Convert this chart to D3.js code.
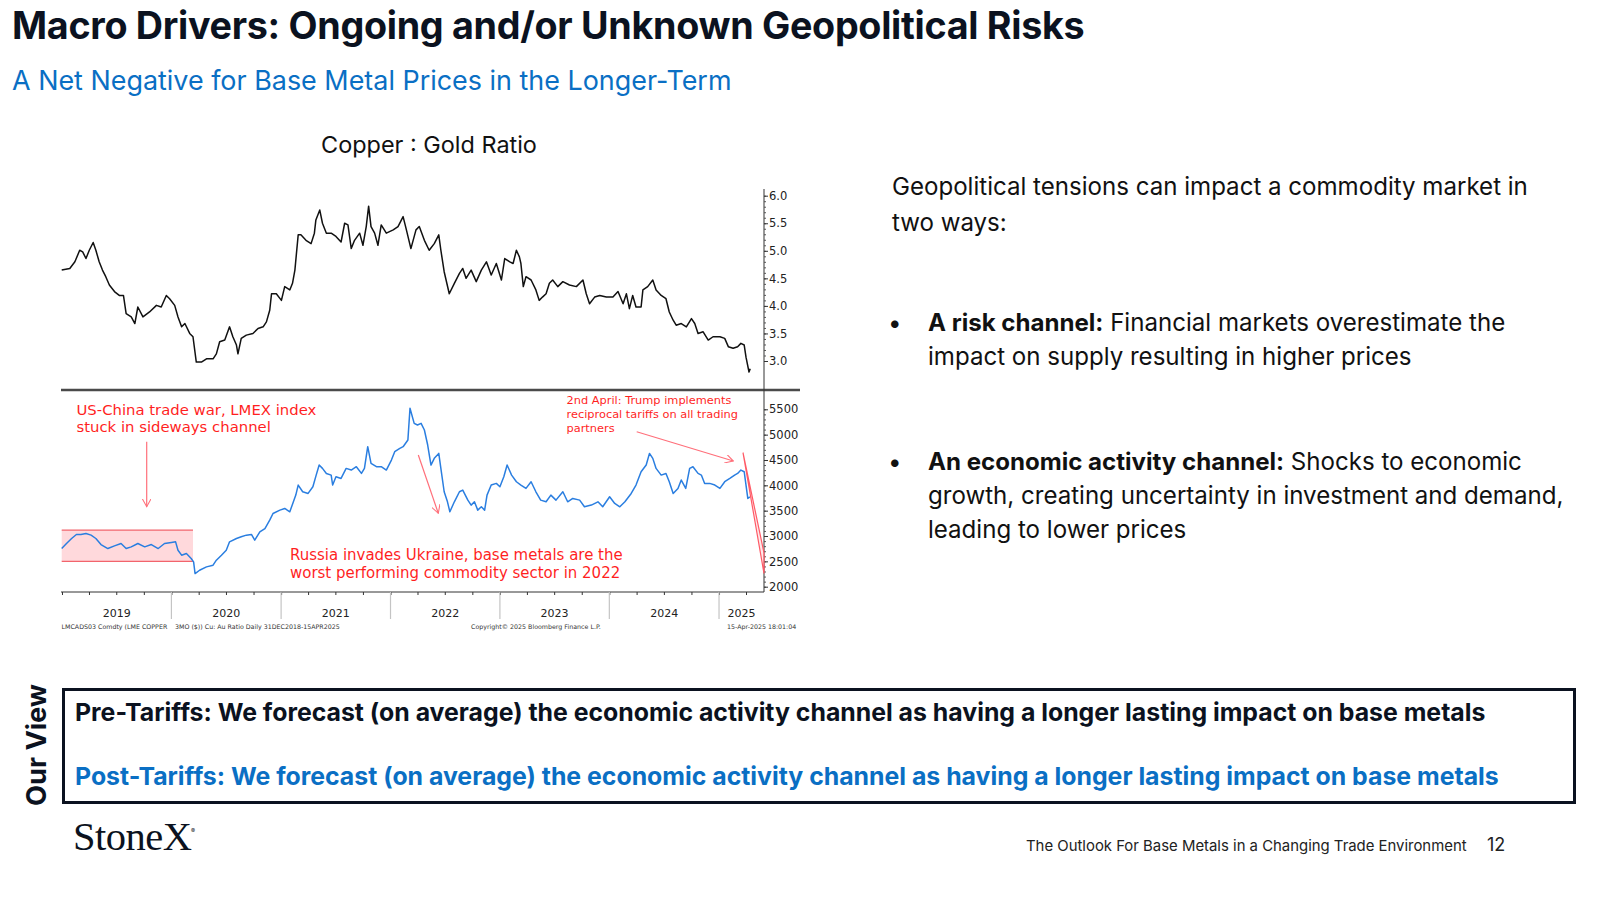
<!DOCTYPE html>
<html>
<head>
<meta charset="utf-8">
<script src="https://cdn.jsdelivr.net/npm/d3@7"></script>
<style>
  body { margin: 0; background: #fff; }
  svg { display: block; }
</style>
</head>
<body>
<svg id="slide" width="1600" height="900"></svg>
<script>
// Copper : Gold ratio (LME copper 3M $/t over gold $/oz)
const ratioDates = [
  "2018-12-31","2019-01-27","2019-02-13","2019-03-01","2019-03-11","2019-03-22","2019-04-02","2019-04-15",
  "2019-04-24","2019-05-05","2019-05-16","2019-05-27","2019-06-08","2019-06-25","2019-07-11","2019-07-25",
  "2019-08-03","2019-08-20","2019-09-01","2019-09-11","2019-09-28","2019-10-20","2019-11-12","2019-11-28",
  "2019-12-15","2019-12-26","2020-01-12","2020-01-23","2020-02-04","2020-02-15","2020-03-02","2020-03-13",
  "2020-03-24","2020-04-10","2020-04-27","2020-05-19","2020-05-30","2020-06-10","2020-06-27","2020-07-13",
  "2020-07-24","2020-08-05","2020-08-10","2020-08-21","2020-09-07","2020-09-29","2020-10-16","2020-11-02",
  "2020-11-13","2020-11-24","2020-11-30","2020-12-16","2021-01-02","2021-01-13","2021-01-30","2021-02-08",
  "2021-02-16","2021-02-27","2021-03-08","2021-03-25","2021-04-11","2021-04-22","2021-04-27","2021-05-10",
  "2021-05-19","2021-06-01","2021-06-17","2021-07-03","2021-07-20","2021-08-01","2021-08-12","2021-08-23",
  "2021-09-03","2021-09-20","2021-10-01","2021-10-12","2021-10-20","2021-10-28","2021-11-09","2021-11-20",
  "2021-12-01","2021-12-18","2022-01-10","2022-01-26","2022-02-12","2022-02-23","2022-03-10","2022-03-27",
  "2022-04-07","2022-04-24","2022-05-10","2022-05-27","2022-06-11","2022-06-18","2022-06-29","2022-07-16",
  "2022-08-02","2022-08-19","2022-08-30","2022-09-10","2022-09-27","2022-10-14","2022-10-31","2022-11-17",
  "2022-12-03","2022-12-20","2023-01-06","2023-01-17","2023-02-03","2023-02-14","2023-02-25","2023-03-07",
  "2023-03-12","2023-03-20","2023-03-29","2023-04-15","2023-05-01","2023-05-12","2023-05-23","2023-06-04",
  "2023-06-15","2023-06-26","2023-07-13","2023-07-30","2023-08-21","2023-09-13","2023-10-05","2023-10-16",
  "2023-10-27","2023-11-13","2023-11-30","2023-12-22","2024-01-13","2024-01-30","2024-02-16","2024-02-27",
  "2024-03-08","2024-03-19","2024-03-30","2024-04-16","2024-04-22","2024-05-08","2024-05-25","2024-06-05",
  "2024-06-22","2024-07-08","2024-07-19","2024-08-01","2024-08-11","2024-08-28","2024-09-14","2024-10-01",
  "2024-10-12","2024-10-23","2024-11-09","2024-11-26","2024-12-12","2025-01-04","2025-01-20","2025-02-01",
  "2025-02-17","2025-03-04","2025-03-15","2025-03-26","2025-04-01","2025-04-11","2025-04-15"
];
const ratioValues = [
  4.65,4.68,4.80,5.01,4.98,4.86,5.01,5.15,
  5.01,4.80,4.65,4.53,4.38,4.26,4.19,4.19,
  3.86,3.80,3.68,3.98,3.80,3.89,4.01,3.98,
  4.19,4.13,4.01,3.80,3.62,3.68,3.50,3.44,
  2.98,2.98,3.04,3.04,3.13,3.35,3.38,3.62,
  3.44,3.29,3.13,3.41,3.47,3.50,3.59,3.62,
  3.71,3.92,4.22,4.22,4.10,4.35,4.29,4.41,
  4.65,5.29,5.29,5.19,5.13,5.32,5.56,5.74,
  5.50,5.32,5.32,5.26,5.16,5.50,5.47,5.04,
  5.19,5.32,5.10,5.44,5.81,5.44,5.32,5.10,
  5.47,5.32,5.38,5.44,5.62,5.38,5.04,5.38,
  5.44,5.19,5.01,5.13,5.29,5.01,4.62,4.22,
  4.41,4.59,4.68,4.50,4.65,4.44,4.65,4.80,
  4.56,4.77,4.47,4.86,4.80,4.77,5.01,4.89,
  4.77,4.35,4.53,4.47,4.29,4.10,4.16,4.22,
  4.41,4.47,4.35,4.44,4.38,4.35,4.47,4.22,
  4.04,4.16,4.19,4.16,4.16,4.26,4.04,4.22,
  3.95,4.19,3.98,3.98,4.29,4.35,4.47,4.29,
  4.19,4.13,3.89,3.74,3.65,3.68,3.62,3.77,
  3.68,3.50,3.53,3.38,3.44,3.44,3.41,3.26,
  3.23,3.26,3.32,3.29,3.07,2.80,2.86
];

// LMEX index
const lmexDates = [
  "2018-12-31","2019-01-16","2019-02-02","2019-02-18","2019-03-05","2019-03-22","2019-04-08","2019-04-24",
  "2019-05-11","2019-06-03","2019-06-25","2019-07-17","2019-08-03","2019-08-20","2019-09-11","2019-10-04",
  "2019-10-26","2019-11-18","2019-12-09","2020-01-01","2020-01-15","2020-01-23","2020-02-04","2020-02-20",
  "2020-03-07","2020-03-15","2020-03-20","2020-04-04","2020-04-27","2020-05-19","2020-05-30","2020-06-16",
  "2020-07-02","2020-07-13","2020-08-05","2020-08-21","2020-09-07","2020-09-24","2020-10-05","2020-10-22",
  "2020-11-08","2020-11-24","2020-12-05","2020-12-28","2021-01-13","2021-01-30","2021-02-11","2021-02-19",
  "2021-02-27","2021-03-14","2021-04-01","2021-04-17","2021-04-28","2021-05-08","2021-05-19","2021-06-01",
  "2021-06-17","2021-06-22","2021-07-03","2021-07-20","2021-08-06","2021-08-23","2021-09-09","2021-09-26",
  "2021-10-06","2021-10-17","2021-10-28","2021-11-15","2021-12-01","2021-12-18","2022-01-04","2022-01-15",
  "2022-02-01","2022-02-12","2022-02-28","2022-03-07","2022-03-21","2022-04-01","2022-04-13","2022-04-24",
  "2022-05-05","2022-05-16","2022-05-27","2022-06-11","2022-06-18","2022-06-29","2022-07-10","2022-07-18",
  "2022-08-02","2022-08-19","2022-08-30","2022-09-16","2022-09-27","2022-10-08","2022-10-19","2022-10-31",
  "2022-11-11","2022-11-19","2022-12-03","2022-12-20","2023-01-01","2023-01-14","2023-01-25","2023-02-09",
  "2023-02-25","2023-03-12","2023-03-29","2023-04-15","2023-05-01","2023-05-17","2023-06-04","2023-06-20",
  "2023-07-07","2023-07-30","2023-08-15","2023-09-01","2023-09-24","2023-10-10","2023-11-02","2023-11-24",
  "2023-12-10","2024-01-02","2024-01-19","2024-02-05","2024-02-22","2024-03-14","2024-03-30","2024-04-16",
  "2024-05-03","2024-05-14","2024-05-25","2024-06-05","2024-06-22","2024-07-08","2024-07-19","2024-08-01",
  "2024-08-17","2024-08-28","2024-09-12","2024-09-25","2024-10-06","2024-10-23","2024-11-03","2024-11-14",
  "2024-12-01","2024-12-18","2025-01-04","2025-01-20","2025-02-06","2025-02-22","2025-03-04","2025-03-15",
  "2025-03-26","2025-04-01","2025-04-07","2025-04-14"
];
const lmexValues = [
  2753,2852,2951,3030,3030,3050,3017,2951,
  2832,2753,2806,2852,2753,2786,2852,2786,
  2832,2753,2852,2872,2885,2720,2622,2654,
  2556,2490,2259,2325,2391,2424,2523,2622,
  2720,2885,2951,2984,3017,3030,2918,3083,
  3148,3313,3445,3511,3544,3478,3675,3807,
  4005,3873,3840,3972,4202,4400,4334,4235,
  4202,4005,4169,4136,4334,4301,4367,4235,
  4334,4762,4433,4367,4367,4301,4499,4663,
  4729,4762,4894,5520,5223,5190,5223,5092,
  4795,4400,4532,4630,4334,3873,3675,3478,
  3675,3873,3906,3708,3610,3675,3511,3577,
  3511,3807,4005,4038,3972,4169,4400,4202,
  4071,4005,3939,4071,3873,3708,3675,3807,
  3708,3873,3675,3741,3708,3577,3610,3675,
  3577,3774,3643,3577,3675,3840,4005,4268,
  4400,4630,4532,4334,4202,4235,4071,3840,
  3939,4104,3939,4334,4367,4235,4202,4038,
  4038,4005,3939,4071,4136,4202,4235,4301,
  4268,4005,3741,3773
];

const ratioTicks = [3.0, 3.5, 4.0, 4.5, 5.0, 5.5, 6.0];
const lmexTicks = [2000, 2500, 3000, 3500, 4000, 4500, 5000, 5500];
const yearLabels = ["2019", "2020", "2021", "2022", "2023", "2024", "2025"];

// sideways channel box (dates + LMEX levels)
const channelBox = {from: "2018-12-31", to: "2020-03-13", low: 2500, high: 3115};

const usChinaText = ["US-China trade war, LMEX index", "stuck in sideways channel"];
const russiaText = ["Russia invades Ukraine, base metals are the", "worst performing commodity sector in 2022"];
const trumpText = ["2nd April: Trump implements", "reciprocal tariffs on all trading", "partners"];

const introText = ["Geopolitical tensions can impact a commodity market in", "two ways:"];
const bullets = [
  {head: "A risk channel:", lines: [" Financial markets overestimate the", "impact on supply resulting in higher prices"]},
  {head: "An economic activity channel:", lines: [" Shocks to economic", "growth, creating uncertainty in investment and demand,", "leading to lower prices"]}
];
const viewLines = [
  "Pre-Tariffs: We forecast (on average) the economic activity channel as having a longer lasting impact on base metals",
  "Post-Tariffs: We forecast (on average) the economic activity channel as having a longer lasting impact on base metals"
];

const ink = "#0b1220";
const blue = "#0a6fc4";
const red = "#ff1f1f";
const redLight = "#ff6f7a";
const sans = "Inter, 'Noto Sans', sans-serif";
const bbg = "'DejaVu Sans', Verdana, sans-serif";

const svg = d3.select("#slide");

// scale a text element's font so it spans the width seen in the slide
function fitWidth(sel, target) {
  const w = sel.node().getComputedTextLength();
  const fs = parseFloat(sel.style("font-size"));
  sel.style("font-size", (fs * target / w) + "px");
  return fs * target / w;
}

// ---------- titles ----------
fitWidth(svg.append("text")
  .attr("x", 12).attr("y", 39)
  .style("font-family", sans).style("font-weight", 700).style("font-size", "34px")
  .style("fill", ink).style("letter-spacing", "-0.3px")
  .text("Macro Drivers: Ongoing and/or Unknown Geopolitical Risks"), 1071);

fitWidth(svg.append("text")
  .attr("x", 12).attr("y", 90)
  .style("font-family", sans).style("font-weight", 400).style("font-size", "26px")
  .style("fill", blue)
  .text("A Net Negative for Base Metal Prices in the Longer-Term"), 720);

fitWidth(svg.append("text")
  .attr("x", 429).attr("y", 153).attr("text-anchor", "middle")
  .style("font-family", sans).style("font-size", "24px").style("fill", "#111")
  .text("Copper : Gold Ratio"), 216);

// ---------- chart ----------
const parseDate = d3.timeParse("%Y-%m-%d");
const ratio = ratioDates.map((d, i) => ({date: parseDate(d), value: ratioValues[i]}));
const lmex = lmexDates.map((d, i) => ({date: parseDate(d), value: lmexValues[i]}));

const plotLeft = 61, plotRight = 764, sepY = 390, axisY = 592;

const x = d3.scaleTime()
  .domain([parseDate("2018-12-31"), parseDate("2025-04-15")])
  .range([61.7, 750.2]);
const yRatio = d3.scaleLinear().domain([3, 6]).range([361, 195.7]);
const yLmex = d3.scaleLinear().domain([2000, 5500]).range([586.7, 409.3]);

const chart = svg.append("g");

// pink sideways channel
const boxX0 = x(parseDate(channelBox.from)), boxX1 = x(parseDate(channelBox.to));
chart.append("rect")
  .attr("x", boxX0).attr("y", yLmex(channelBox.high))
  .attr("width", boxX1 - boxX0).attr("height", yLmex(channelBox.low) - yLmex(channelBox.high))
  .style("fill", "#ffd9dc");
[channelBox.high, channelBox.low].forEach(v => {
  chart.append("line")
    .attr("x1", boxX0).attr("x2", boxX1).attr("y1", yLmex(v)).attr("y2", yLmex(v))
    .style("stroke", "#f2646c").style("stroke-width", 1.3);
});

// series
chart.append("path")
  .datum(ratio)
  .attr("d", d3.line().x(d => x(d.date)).y(d => yRatio(d.value)))
  .style("fill", "none").style("stroke", "#111").style("stroke-width", 1.5)
  .style("stroke-linejoin", "round");

chart.append("path")
  .datum(lmex)
  .attr("d", d3.line().x(d => x(d.date)).y(d => yLmex(d.value)))
  .style("fill", "none").style("stroke", "#2a7ee0").style("stroke-width", 1.5)
  .style("stroke-linejoin", "round");

// panel separator
chart.append("line")
  .attr("x1", plotLeft).attr("x2", 800).attr("y1", sepY).attr("y2", sepY)
  .style("stroke", "#4a4a4a").style("stroke-width", 2.4);

// right axes
function rightAxis(scale, ticks, minorTicks, fmt, top, bottom) {
  const g = chart.append("g").attr("transform", `translate(${plotRight},0)`);
  g.append("line").attr("y1", top).attr("y2", bottom).style("stroke", "#333");
  g.append("g")
    .call(d3.axisRight(scale).tickValues(minorTicks).tickSize(2).tickFormat(""))
    .call(a => a.select(".domain").remove())
    .selectAll("line").style("stroke", "#555");
  const major = g.append("g")
    .call(d3.axisRight(scale).tickValues(ticks).tickSize(4).tickPadding(1).tickFormat(fmt))
    .call(a => a.select(".domain").remove());
  major.selectAll("line").style("stroke", "#333");
  major.selectAll("text")
    .style("font-family", bbg).style("font-size", "11.5px").style("fill", "#222");
}
rightAxis(yRatio, ratioTicks, yRatio.ticks(30), d3.format(".1f"), 189, sepY);
rightAxis(yLmex, lmexTicks, yLmex.ticks(35), d3.format("d"), sepY, axisY);

// bottom time axis
chart.append("line")
  .attr("x1", plotLeft).attr("x2", plotRight).attr("y1", axisY).attr("y2", axisY)
  .style("stroke", "#333");
chart.append("g")
  .attr("transform", `translate(0,${axisY})`)
  .call(d3.axisBottom(x).ticks(d3.timeMonth.every(3)).tickSize(3).tickFormat(""))
  .call(a => a.select(".domain").remove())
  .selectAll("line").style("stroke", "#333");

const years = yearLabels.map(y => parseDate(y + "-01-01"));
chart.append("g")
  .selectAll("line")
  .data(years.slice(1))
  .join("line")
    .attr("x1", d => x(d)).attr("x2", d => x(d))
    .attr("y1", axisY).attr("y2", 619)
    .style("stroke", "#c4c4c4").style("stroke-width", 1.2);

chart.append("g")
  .selectAll("text")
  .data(years)
  .join("text")
    .attr("x", d => {
      const a = Math.max(x(d), plotLeft);
      const b = Math.min(x(d3.timeYear.offset(d, 1)), plotRight);
      return (a + b) / 2;
    })
    .attr("y", 617)
    .attr("text-anchor", "middle")
    .style("font-family", bbg).style("font-size", "11px").style("fill", "#222")
    .text((_, i) => yearLabels[i]);

// bloomberg footer line
const footNotes = [
  {x: 61.5, t: "LMCADS03 Comdty (LME COPPER"},
  {x: 175, t: "3MO ($)) Cu: Au Ratio  Daily 31DEC2018-15APR2025"},
  {x: 471, t: "Copyright\u00A9 2025 Bloomberg Finance L.P."},
  {x: 727, t: "15-Apr-2025 18:01:04"}
];
chart.append("g")
  .selectAll("text")
  .data(footNotes)
  .join("text")
    .attr("x", d => d.x).attr("y", 629)
    .style("font-family", bbg).style("font-size", "6.3px").style("fill", "#333")
    .text(d => d.t);

// ---------- annotations ----------
svg.append("defs").append("marker")
  .attr("id", "openArrow")
  .attr("viewBox", "0 0 10 10")
  .attr("refX", 9).attr("refY", 5)
  .attr("markerWidth", 9).attr("markerHeight", 9)
  .attr("markerUnits", "userSpaceOnUse")
  .attr("orient", "auto")
  .append("path")
    .attr("d", "M0,0 L9,5 L0,10")
    .style("fill", "none").style("stroke", redLight).style("stroke-width", 1.2);

function noteBlock(lines, x0, y0, dy, size, firstWidth) {
  const g = chart.append("g");
  const t = g.selectAll("text")
    .data(lines)
    .join("text")
      .attr("x", x0).attr("y", (_, i) => y0 + i * dy)
      .style("font-family", bbg).style("font-size", size + "px").style("fill", red)
      .text(d => d);
  const fs = fitWidth(d3.select(t.nodes()[0]), firstWidth);
  t.style("font-size", fs + "px");
}
noteBlock(usChinaText, 76.5, 415, 16.7, 14, 240);
noteBlock(russiaText, 290, 560, 18, 14, 333);
noteBlock(trumpText, 566.5, 404.3, 14, 11.5, 165);

const arrows = [
  [[146.7, 441.7], [146.7, 506.7]],
  [[418.3, 455], [438.3, 513.3]],
  [[636.7, 431.7], [733.3, 461]]
];
chart.append("g")
  .selectAll("line")
  .data(arrows)
  .join("line")
    .attr("x1", d => d[0][0]).attr("y1", d => d[0][1])
    .attr("x2", d => d[1][0]).attr("y2", d => d[1][1])
    .attr("marker-end", "url(#openArrow)")
    .style("stroke", redLight).style("stroke-width", 1.2);

// long thin wedge marking the April sell-off
chart.append("path")
  .attr("d", "M743,452.7 L764,573.5 L764,553 Z")
  .style("fill", "#ffd9dc").style("fill-opacity", 0.6)
  .style("stroke", "#ff5a66").style("stroke-width", 1.2);

// ---------- right hand text ----------
const textX = 892, bulletTextX = 928;
const body = svg.append("g").style("font-family", sans).style("fill", "#111");
const intro = body.selectAll("text.intro")
  .data(introText)
  .join("text")
    .attr("class", "intro")
    .attr("x", textX).attr("y", (_, i) => 195 + i * 36)
    .style("font-size", "24px")
    .text(d => d);
const bodySize = fitWidth(d3.select(intro.nodes()[0]), 636);
intro.style("font-size", bodySize + "px");

const bulletTops = [331, 470];
bullets.forEach((b, k) => {
  const y0 = bulletTops[k];
  body.append("text")
    .attr("x", textX - 4).attr("y", y0)
    .style("font-size", bodySize + "px")
    .text("\u2022");
  b.lines.forEach((line, i) => {
    const t = body.append("text")
      .attr("x", bulletTextX).attr("y", y0 + i * 34)
      .style("font-size", bodySize + "px");
    if (i === 0) {
      t.append("tspan").style("font-weight", 700).text(b.head);
    }
    t.append("tspan").text(line);
  });
});

// ---------- our view box ----------
svg.append("rect")
  .attr("x", 63.5).attr("y", 689.5).attr("width", 1511).attr("height", 113)
  .style("fill", "none").style("stroke", ink).style("stroke-width", 3);

fitWidth(svg.append("text")
  .attr("transform", "translate(46,745) rotate(-90)")
  .attr("text-anchor", "middle")
  .style("font-family", sans).style("font-weight", 700).style("font-size", "28px")
  .style("fill", ink)
  .text("Our View"), 122);

const viewG = svg.append("g").style("font-family", sans).style("font-weight", 700);
const viewT = viewG.selectAll("text")
  .data(viewLines)
  .join("text")
    .attr("x", 75).attr("y", (_, i) => 721 + i * 64)
    .style("font-size", "24px")
    .style("fill", (_, i) => i === 0 ? ink : blue)
    .text(d => d);
const viewSize = fitWidth(d3.select(viewT.nodes()[0]), 1411);
viewT.style("font-size", viewSize + "px");

// ---------- footer ----------
const logo = svg.append("text")
  .attr("x", 73).attr("y", 850)
  .style("font-family", "'Liberation Serif', 'DejaVu Serif', serif")
  .style("font-size", "34px").style("fill", ink)
  .style("letter-spacing", "-0.5px");
logo.append("tspan").text("StoneX");
fitWidth(logo, 118);
svg.append("text")
  .attr("x", 191).attr("y", 833)
  .style("font-family", sans).style("font-size", "6px").style("fill", ink)
  .text("\u00AE");

fitWidth(svg.append("text")
  .attr("x", 1026).attr("y", 851)
  .style("font-family", sans).style("font-size", "16px").style("fill", "#222")
  .text("The Outlook For Base Metals in a Changing Trade Environment"), 441);

svg.append("text")
  .attr("x", 1487).attr("y", 851)
  .style("font-family", sans).style("font-size", "18px").style("fill", "#222")
  .text("12");
</script>
</body>
</html>
